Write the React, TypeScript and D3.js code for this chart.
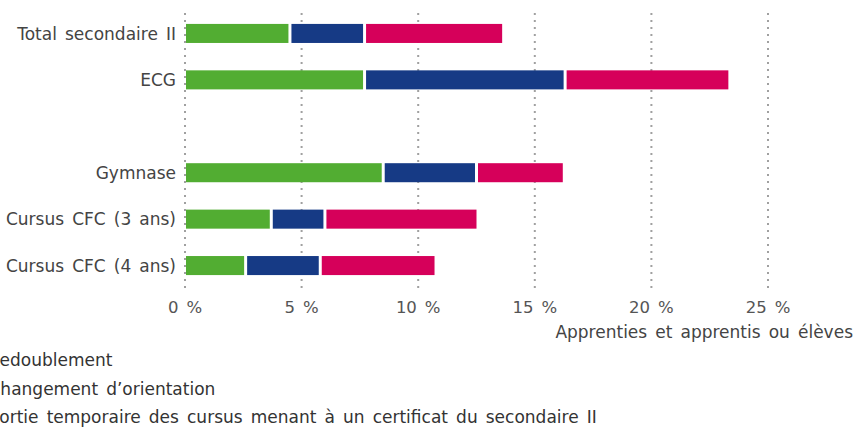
import React from "react";
import * as d3 from "d3";

const categories = ["Total secondaire II", "ECG", "", "Gymnase", "Cursus CFC (3 ans)", "Cursus CFC (4 ans)"];
const redoublement = [4.5, 7.7, 0, 8.5, 3.7, 2.6];
const changement = [3.2, 8.6, 0, 4.0, 2.3, 3.2];
const sortie = [5.9, 7.0, 0, 3.7, 6.5, 4.9];
const seriesNames = [
  "Redoublement",
  "Changement d\u2019orientation",
  "Sortie temporaire des cursus menant \u00e0 un certificat du secondaire II",
];
const ticks = [0, 5, 10, 15, 20, 25];
const axisTitle = "Apprenties et apprentis ou \u00e9l\u00e8ves";

const colors = ["#52ad32", "#163a85", "#d6005a"];
const W = 857;
const H = 427;
const FONT = "'DejaVu Sans', sans-serif";

export default function App() {
  const x = d3.scaleLinear().domain([0, 25]).range([185, 768]);
  const y = d3.scaleBand<number>().domain(d3.range(categories.length)).range([10, 289]).paddingInner(0.59).paddingOuter(0.3);
  const rows = categories.map((c, i) => ({ c, i, v: [redoublement[i], changement[i], sortie[i]] }));
  const gap = 1.5;
  return (
    <svg width={W} height={H} style={{ position: "absolute", left: 0, top: 0, background: "#fff", wordSpacing: "2.7px" }} fontFamily={FONT}>
      {ticks.map((t) => (
        <g key={t}>
          <line x1={x(t)} x2={x(t)} y1={13} y2={292} stroke="#a0a0a0" strokeWidth={2} strokeDasharray="2,5" />
          <text x={x(t)} y={313} textAnchor="middle" fontSize={16.5} fill="#555">{`${t} %`}</text>
        </g>
      ))}
      {rows.map(({ c, i, v }) => {
        if (!c) return null;
        let acc = 0;
        const y0 = y(i)!;
        return (
          <g key={c}>
            {v.map((val, k) => {
              const a = acc;
              acc += val;
              const x0 = x(a) + (k === 0 ? 1 : gap);
              const x1 = x(acc) - (k === 2 ? 0 : gap);
              return <rect key={k} x={x0} y={y0} width={x1 - x0} height={y.bandwidth()} fill={colors[k]} />;
            })}
            <text x={176} y={y0 + y.bandwidth() / 2} dy="0.36em" textAnchor="end" fontSize={17} fill="#444">{c}</text>
          </g>
        );
      })}
      <text x={853} y={338} textAnchor="end" fontSize={17} fill="#444">{axisTitle}</text>
      {seriesNames.map((s, k) => (
        <text key={s} x={-11.5} y={366 + k * 28.5} fontSize={17} fill="#333">{s}</text>
      ))}
    </svg>
  );
}
